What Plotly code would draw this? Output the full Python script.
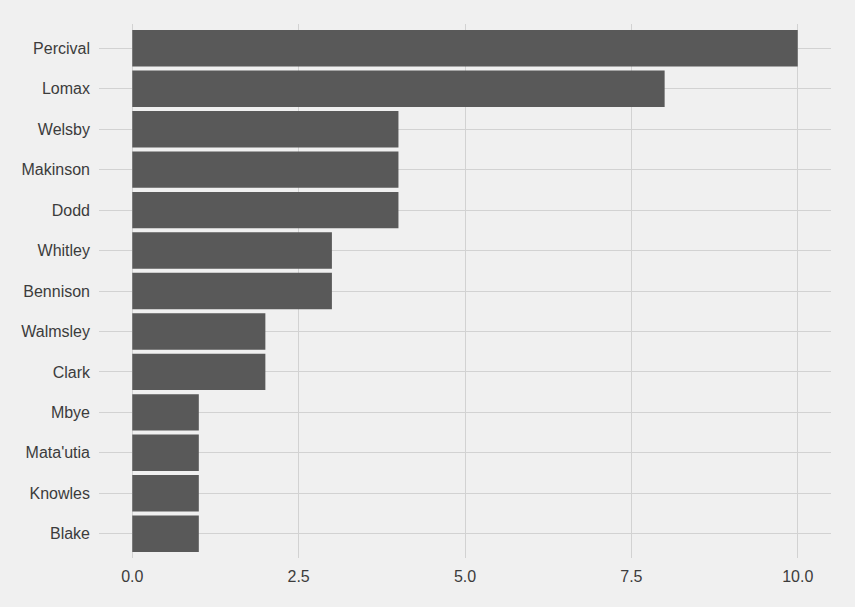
import plotly.graph_objects as go

players = ["Blake", "Knowles", "Mata'utia", "Mbye", "Clark", "Walmsley", "Bennison",
           "Whitley", "Dodd", "Makinson", "Welsby", "Lomax", "Percival"]
values = [1, 1, 1, 1, 2, 2, 3, 3, 4, 4, 4, 8, 10]
x_ticks = [0, 2.5, 5, 7.5, 10]
x_tick_labels = ["0.0", "2.5", "5.0", "7.5", "10.0"]

fig = go.Figure(go.Bar(
    x=values, y=players, orientation="h",
    marker=dict(color="#595959", line=dict(width=0)),
    width=0.9,
))

fig.update_layout(
    width=855, height=607,
    paper_bgcolor="#F0F0F0", plot_bgcolor="#F0F0F0",
    margin=dict(l=99, r=24, t=24, b=49),
    font=dict(family="Liberation Sans, Arial, sans-serif", size=16, color="#3C3C3C"),
    showlegend=False,
    bargap=0.1,
)
fig.update_xaxes(
    range=[-0.5, 10.5], tickvals=x_ticks, ticktext=x_tick_labels,
    showgrid=True, gridcolor="#D2D2D2", gridwidth=1, zeroline=False,
    showline=False, ticks="", ticklabelstandoff=7,
)
fig.update_yaxes(
    categoryorder="array", categoryarray=players, range=[-0.6, 12.6],
    showgrid=True, gridcolor="#D2D2D2", gridwidth=1, zeroline=False,
    showline=False, ticks="", ticklabelstandoff=8,
)
fig.write_html(
    "out.html",
    config={"displayModeBar": False},
    post_script="document.body.style.margin='0';document.body.style.background='#F0F0F0';document.body.style.overflow='hidden';",
)
